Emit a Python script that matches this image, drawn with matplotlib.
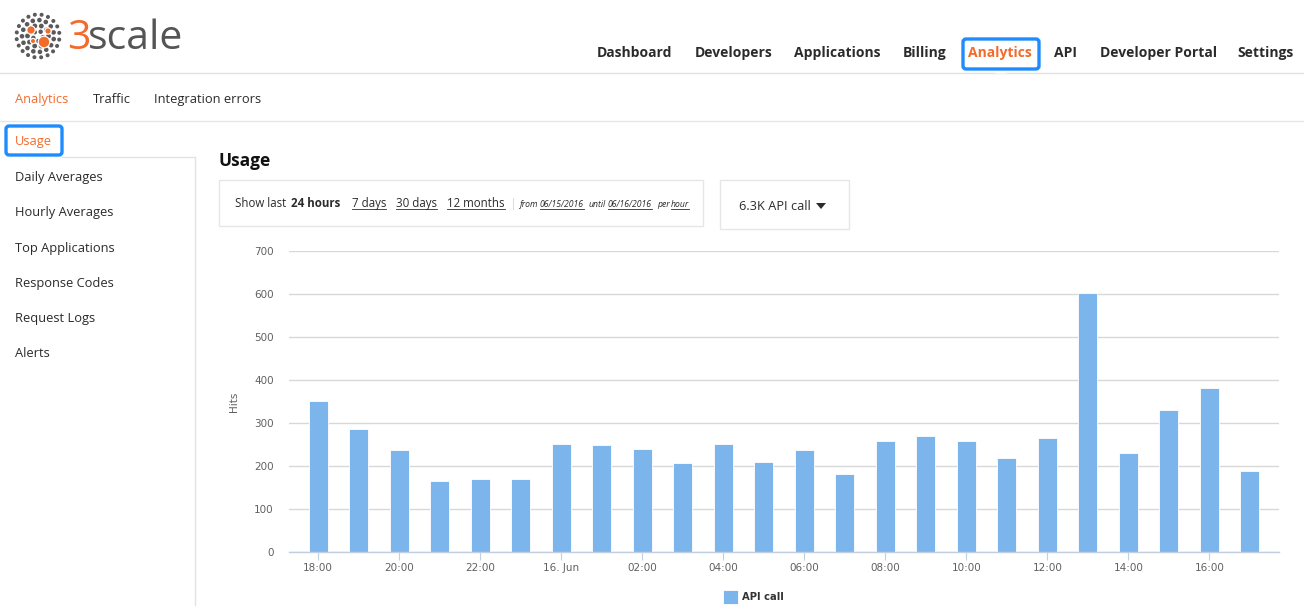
import matplotlib
matplotlib.use('Agg')
import matplotlib.pyplot as plt
from matplotlib.patches import Rectangle, FancyBboxPatch, Circle, Polygon
import numpy as np

W, H = 1304, 606

# ---------------- data ----------------
hours = ['18:00', '19:00', '20:00', '21:00', '22:00', '23:00', '00:00', '01:00',
         '02:00', '03:00', '04:00', '05:00', '06:00', '07:00', '08:00', '09:00',
         '10:00', '11:00', '12:00', '13:00', '14:00', '15:00', '16:00', '17:00']
hits = [351, 286, 237, 165, 170, 170, 251, 249, 240, 207, 251, 209,
        237, 181, 258, 270, 258, 219, 265, 602, 230, 330, 381, 188]
tick_labels = ['18:00', '20:00', '22:00', '16. Jun', '02:00', '04:00',
               '06:00', '08:00', '10:00', '12:00', '14:00', '16:00']
y_ticks = [0, 100, 200, 300, 400, 500, 600, 700]
series_name = 'API call'

nav_items = ['Dashboard', 'Developers', 'Applications', 'Billing', 'Analytics',
             'API', 'Developer Portal', 'Settings']
sub_items = ['Analytics', 'Traffic', 'Integration errors']
side_items = ['Usage', 'Daily Averages', 'Hourly Averages', 'Top Applications',
              'Response Codes', 'Request Logs', 'Alerts']

ORANGE = '#f26b2b'
BLUE = '#1e8cff'
DARK = '#2b2b2b'
UI_FONT = ['Open Sans', 'DejaVu Sans']

fig = plt.figure(figsize=(W / 100, H / 100), dpi=100)
fig.patch.set_facecolor('white')

# ---------------- page chrome (pixel coordinates) ----------------
ui = fig.add_axes([0, 0, 1, 1])
ui.set_xlim(0, W)
ui.set_ylim(H, 0)
ui.axis('off')
renderer = fig.canvas.get_renderer()

def txt(x, y, s, size=9, color=DARK, weight='normal', style='normal',
        ha='left', underline=False, family=UI_FONT):
    px = size * 100 / 72
    base = y + 0.36 * px
    t = ui.text(x, base, s, fontsize=size, color=color, fontweight=weight,
                fontstyle=style, ha=ha, va='baseline', family=family)
    if underline:
        bb = t.get_window_extent(renderer)
        uy = base + 0.12 * px + 0.5
        ui.plot([x, x + bb.width], [uy, uy], color=color, lw=0.6)
    return t

# logo dots
cx, cy = 38, 36
rings = [(5, 5, 2.2), (10.5, 10, 2.4), (16, 15, 2.3), (21.5, 20, 2.0)]
for r, n, s in rings:
    for k in range(n):
        a = 2 * np.pi * k / n + r * 0.3
        ui.add_patch(Circle((cx + r * np.cos(a), cy + r * np.sin(a)), s,
                            color='#5a5a5a', lw=0))
for (ox, oy, rr) in [(31, 30, 3.6), (48, 31, 2.6), (44, 42, 5.2), (33, 41, 2.0)]:
    ui.add_patch(Circle((ox, oy), rr + 1.2, color='white', lw=0, zorder=3))
    ui.add_patch(Circle((ox, oy), rr, color=ORANGE, lw=0, zorder=4))
ui.text(67, 39, '3', fontsize=29.5, color=ORANGE, va='center', ha='left',
        family=UI_FONT)
ui.text(88, 39, 'scale', fontsize=29.5, color='#555555', va='center', ha='left',
        family=UI_FONT)

# top navigation
nav_x = [597, 695, 794, 903, 968, 1054, 1100, 1237]
for name, x in zip(nav_items, nav_x):
    txt(x, 52, name, size=10, weight='bold',
        color=ORANGE if name == 'Analytics' else DARK)
ui.add_patch(FancyBboxPatch((963, 39), 76, 30, boxstyle='round,pad=0,rounding_size=3',
                            fc='none', ec=BLUE, lw=2.4, zorder=5))
ui.plot([0, W], [73, 73], color='#e3e3e3', lw=1)
ui.add_patch(Polygon([[995, 73.5], [1001, 67], [1007, 73.5]], closed=True,
                     fc='white', ec='none', zorder=4))

# sub navigation
sub_x = [15, 93, 154]
for name, x in zip(sub_items, sub_x):
    txt(x, 98, name, size=9.3, color=ORANGE if name == 'Analytics' else DARK)
ui.plot([0, W], [121, 121], color='#e6e6e6', lw=1)

# sidebar
side_y = [140, 176, 211, 247, 282, 317, 352]
for name, y in zip(side_items, side_y):
    txt(15, y, name, size=9.3, color=ORANGE if name == 'Usage' else DARK)
ui.add_patch(FancyBboxPatch((6, 126), 56, 29, boxstyle='round,pad=0,rounding_size=3',
                            fc='none', ec=BLUE, lw=2.4, zorder=5))
ui.plot([62, 195], [157, 157], color='#e3e3e3', lw=1)
ui.plot([195, 195], [157, H], color='#e3e3e3', lw=1)

# heading and controls
txt(219, 160, 'Usage', size=12.5, weight='bold', color='#111111')
ui.add_patch(Rectangle((219, 180), 484, 46, fc='white', ec='#e6e6e6', lw=1))
ui.add_patch(Rectangle((720, 180), 129, 49, fc='white', ec='#e6e6e6', lw=1))
txt(235, 203, 'Show last', size=8.3)
txt(291, 203, '24 hours', size=8.3, weight='bold')
txt(352, 203, '7 days', size=8.3, underline=True)
txt(396, 203, '30 days', size=8.3, underline=True)
txt(447, 203, '12 months', size=8.3, underline=True)
ui.plot([513, 513], [198, 209], color='#dddddd', lw=0.8)
txt(520, 204, 'from', size=6.2, style='italic')
txt(540, 204, '06/15/2016', size=6.2, style='italic', underline=True)
txt(589, 204, 'until', size=6.2, style='italic')
txt(608, 204, '06/16/2016', size=6.2, style='italic', underline=True)
txt(657, 204, 'per', size=6.2, style='italic')
txt(671, 204, 'hour', size=6.2, style='italic', underline=True)
txt(739, 205, '6.3K API call', size=9.2)
ui.add_patch(Polygon([[816, 203], [826, 203], [821, 209]], closed=True,
                     fc=DARK, ec='none'))

# ---------------- chart ----------------
ax = fig.add_axes([289 / W, (H - 552) / H, (1279 - 289) / W, (552 - 251) / H])
ax.set_facecolor('none')
x = np.arange(len(hours))
ax.bar(x, hits, width=0.47, color='#7cb5ec', edgecolor='white', linewidth=0.6,
       label=series_name, zorder=3)
ax.set_xlim(-0.72, len(hours) - 0.28)
ax.set_ylim(0, 700)
ax.set_yticks(y_ticks)
ax.set_yticklabels([str(v) for v in y_ticks])
ax.set_xticks(x[::2])
ax.set_xticklabels(tick_labels)
ax.grid(axis='y', color='#d8d8d8', lw=1, zorder=0)
for s in ['top', 'right', 'left']:
    ax.spines[s].set_visible(False)
ax.spines['bottom'].set_color('#c0d0e0')
ax.spines['bottom'].set_linewidth(1)
ax.spines['bottom'].set_zorder(4)
ax.tick_params(axis='y', length=0, pad=11, labelsize=7.5, labelcolor='#606060')
ax.tick_params(axis='x', length=6, width=0.8, color='#c0d0e0', pad=2,
               labelsize=7.5, labelcolor='#606060')
ax.set_ylabel('Hits', fontsize=7.5, color='#606060')
ax.yaxis.set_label_coords(-0.0505, 0.5)

leg = fig.legend(loc='center left', bbox_to_anchor=(714 / W, 1 - 597 / H),
                 frameon=False, handlelength=1.5, handleheight=1.8,
                 handletextpad=0.4, prop={'size': 7.2, 'weight': 'bold'})
for t in leg.get_texts():
    t.set_color('#333333')

fig.savefig('out.png', dpi=100, facecolor='white')
